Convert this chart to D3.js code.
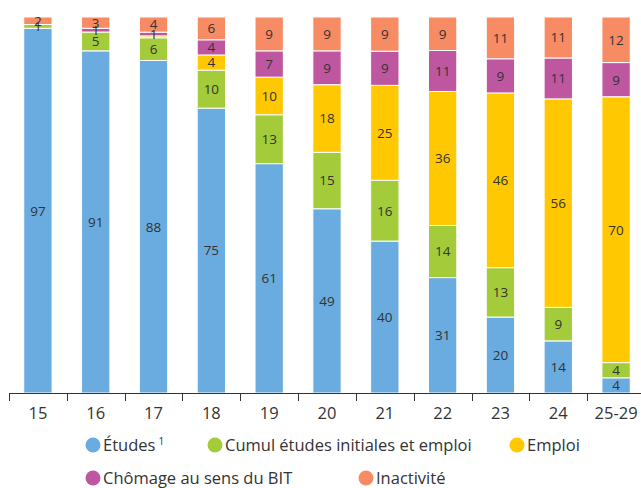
<!DOCTYPE html>
<html><head><meta charset="utf-8">
<script src="https://cdn.jsdelivr.net/npm/d3@7"></script>
<style>body{margin:0;background:#fff}svg{display:block}</style>
</head><body>
<svg id="c" width="641" height="488"></svg>
<script>
const categories = ["15","16","17","18","19","20","21","22","23","24","25-29"];
const seriesNames = ["Études","Cumul études initiales et emploi","Emploi","Chômage au sens du BIT","Inactivité"];
const etudes     = [97, 91, 88, 75, 61, 49, 40, 31, 20, 14, 4];
const cumul      = [1, 5, 6, 10, 13, 15, 16, 14, 13, 9, 4];
const emploi     = [0, 0, 0.5, 4, 10, 18, 25, 36, 46, 56, 70];
const chomage    = [0, 1, 1, 4, 7, 9, 9, 11, 9, 11, 9];
const inactivite = [2, 3, 4, 6, 9, 9, 9, 9, 11, 11, 12];
const colors = ["#6aacdf", "#a4cb3a", "#ffc800", "#bf57a0", "#f68b64"];

const keys = ["etudes","cumul","emploi","chomage","inactivite"];
const arrays = [etudes, cumul, emploi, chomage, inactivite];
const rows = categories.map((c,i)=>{const r={cat:c}; keys.forEach((k,j)=>r[k]=arrays[j][i]); return r;});

const FONT = "'Open Sans', Lato, sans-serif";
const svg = d3.select("#c");
const x = d3.scaleBand().domain(categories).range([9, 645]).padding(0);
const y = d3.scaleLinear().domain([0,1]).range([393, 17]);
const color = d3.scaleOrdinal().domain(keys).range(colors);
const stack = d3.stack().keys(keys).offset(d3.stackOffsetExpand);
const series = stack(rows);
const barW = x.bandwidth()*0.49;

const g = svg.append("g");
series.forEach(s=>{
  const key = s.key;
  g.selectAll(null).data(s).enter().append("rect")
    .attr("x", d=>x(d.data.cat)+(x.bandwidth()-barW)/2)
    .attr("y", d=>y(d[1]))
    .attr("width", barW)
    .attr("height", d=>Math.max(0, y(d[0])-y(d[1])))
    .attr("fill", color(key))
    .attr("stroke", "#fff").attr("stroke-width", 1);
});
series.forEach(s=>{
  const key = s.key;
  g.selectAll(null).data(s.filter(d=>d.data[key]>=1)).enter().append("text")
    .attr("x", d=>x(d.data.cat)+x.bandwidth()/2)
    .attr("y", d=>(y(d[0])+y(d[1]))/2)
    .attr("dy","0.36em")
    .attr("text-anchor","middle")
    .attr("font-family",FONT)
    .attr("font-size", 13.5)
    .attr("fill","#333")
    .text(d=>d.data[key]);
});

// axis
const ax = svg.append("g").attr("transform","translate(0,393)")
  .call(d3.axisBottom(x).tickSize(0).tickPadding(14));
ax.select(".domain").remove();
ax.selectAll("text").attr("font-family",FONT).attr("font-size",16.5).attr("fill","#333");
svg.append("line").attr("x1",9).attr("x2",641).attr("y1",393.5).attr("y2",393.5).attr("stroke","#333").attr("stroke-width",1.2);
svg.selectAll(null).data(categories).enter().append("line")
  .attr("x1",d=>Math.round(x(d))+0.5).attr("x2",d=>Math.round(x(d))+0.5)
  .attr("y1",393).attr("y2",401).attr("stroke","#333").attr("stroke-width",1);

// legend
const legendItems = [
  {name:"Études", sup:"1", k:0, cx:93, cy:445},
  {name:seriesNames[1], k:1, cx:215, cy:445},
  {name:seriesNames[2], k:2, cx:517, cy:445},
  {name:seriesNames[3], k:3, cx:93, cy:478},
  {name:seriesNames[4], k:4, cx:366, cy:478}
];
const lg = svg.append("g");
legendItems.forEach(it=>{
  lg.append("circle").attr("cx",it.cx).attr("cy",it.cy).attr("r",7.5).attr("fill",colors[it.k]);
  const t = lg.append("text").attr("x",it.cx+10).attr("y",it.cy).attr("dy","0.36em")
    .attr("font-family",FONT).attr("font-size",16.5).attr("fill","#333")
    .text(it.name);
  if(it.sup){ t.append("tspan").attr("dx",3).attr("dy",-6).attr("font-size",10).text(it.sup); }
});
</script>
</body></html>
